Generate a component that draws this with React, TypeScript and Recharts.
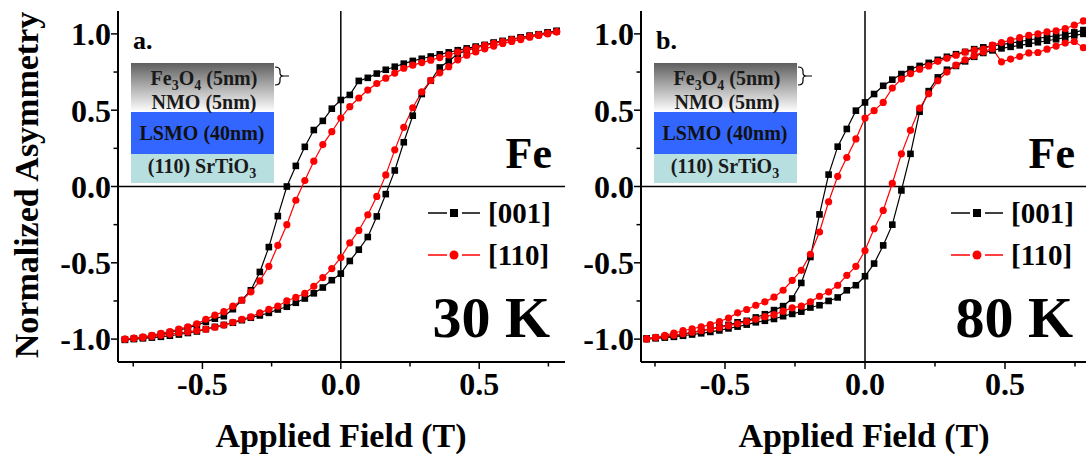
import { LineChart, Line, XAxis, YAxis, ReferenceLine } from "recharts"

// applied field steps of the sweep, from +H down to -H (T)
const FIELD = [
  0.78, 0.7475, 0.715, 0.6825, 0.65, 0.6175, 0.585, 0.5525, 0.52, 0.4875,
  0.455, 0.4225, 0.39, 0.3575, 0.325, 0.2925, 0.26, 0.2275, 0.195, 0.1625,
  0.13, 0.0975, 0.065, 0.0325, 0, -0.0325, -0.065, -0.0975, -0.13, -0.1625,
  -0.195, -0.2275, -0.26, -0.2925, -0.325, -0.3575, -0.39, -0.4225, -0.455, -0.4875,
  -0.52, -0.5525, -0.585, -0.6175, -0.65, -0.6825, -0.715, -0.7475, -0.78,
]

// 30 K, [001]
const A001_DOWN = [
  1.02, 1.01, 0.998, 0.988, 0.977, 0.966, 0.954, 0.943, 0.928, 0.917,
  0.905, 0.893, 0.879, 0.866, 0.852, 0.837, 0.823, 0.805, 0.785, 0.765,
  0.74, 0.712, 0.692, 0.6, 0.567, 0.51, 0.43, 0.37, 0.26, 0.135,
  0.0, -0.194, -0.397, -0.56, -0.68, -0.745, -0.804, -0.85, -0.866, -0.887,
  -0.908, -0.926, -0.941, -0.955, -0.967, -0.979, -0.99, -0.997, -1.003,
]
const A001_UP = [
  -1.005, -1.0, -0.995, -0.99, -0.985, -0.978, -0.97, -0.96, -0.95, -0.935,
  -0.92, -0.907, -0.893, -0.876, -0.86, -0.845, -0.828, -0.806, -0.788, -0.762,
  -0.734, -0.7, -0.662, -0.614, -0.571, -0.488, -0.414, -0.331, -0.196, -0.05,
  0.105, 0.29, 0.464, 0.606, 0.693, 0.78, 0.823, 0.868, 0.892, 0.91,
  0.925, 0.94, 0.952, 0.964, 0.975, 0.987, 0.997, 1.008, 1.018,
]
// 30 K, [110]
const A110_DOWN = [
  1.015, 1.005, 0.995, 0.985, 0.973, 0.962, 0.95, 0.938, 0.925, 0.91,
  0.895, 0.88, 0.862, 0.845, 0.828, 0.812, 0.795, 0.775, 0.743, 0.71,
  0.675, 0.632, 0.58, 0.523, 0.449, 0.359, 0.275, 0.166, 0.039, -0.09,
  -0.25, -0.386, -0.523, -0.619, -0.69, -0.745, -0.784, -0.82, -0.843, -0.87,
  -0.9, -0.92, -0.935, -0.95, -0.962, -0.975, -0.985, -0.993, -1.0,
]
const A110_UP = [
  -1.0, -0.995, -0.99, -0.982, -0.975, -0.967, -0.96, -0.953, -0.945, -0.935,
  -0.922, -0.908, -0.89, -0.871, -0.854, -0.828, -0.805, -0.784, -0.749, -0.727,
  -0.7, -0.654, -0.597, -0.538, -0.466, -0.37, -0.288, -0.185, -0.065, 0.076,
  0.24, 0.388, 0.516, 0.62, 0.695, 0.745, 0.785, 0.83, 0.86, 0.882,
  0.902, 0.92, 0.937, 0.95, 0.963, 0.978, 0.99, 1.0, 1.012,
]

// 80 K, [001]
const B001_DOWN = [
  1.025, 1.01, 0.997, 0.988, 0.98, 0.97, 0.96, 0.95, 0.94, 0.93,
  0.922, 0.912, 0.9, 0.882, 0.867, 0.85, 0.83, 0.81, 0.79, 0.769,
  0.737, 0.7, 0.66, 0.606, 0.551, 0.497, 0.377, 0.261, 0.078, -0.183,
  -0.462, -0.632, -0.734, -0.784, -0.81, -0.837, -0.858, -0.88, -0.89, -0.907,
  -0.92, -0.934, -0.946, -0.957, -0.968, -0.977, -0.985, -0.99, -0.995,
]
const B001_UP = [
  -1.0, -0.995, -0.99, -0.985, -0.978, -0.97, -0.962, -0.953, -0.943, -0.93,
  -0.918, -0.905, -0.89, -0.88, -0.868, -0.85, -0.835, -0.82, -0.793, -0.778,
  -0.75, -0.727, -0.68, -0.647, -0.588, -0.505, -0.386, -0.25, -0.026, 0.214,
  0.49, 0.625, 0.715, 0.765, 0.79, 0.82, 0.85, 0.875, 0.892, 0.905,
  0.915, 0.925, 0.935, 0.945, 0.955, 0.965, 0.975, 0.99, 1.0,
]
// 80 K, [110]
const B110_DOWN = [
  1.085, 1.057, 1.035, 1.02, 1.013, 1.0, 0.991, 0.976, 0.959, 0.943,
  0.926, 0.9, 0.893, 0.88, 0.86, 0.84, 0.82, 0.79, 0.769, 0.74,
  0.704, 0.645, 0.551, 0.497, 0.449, 0.312, 0.19, 0.067, -0.1, -0.298,
  -0.444, -0.549, -0.615, -0.68, -0.725, -0.756, -0.778, -0.806, -0.828, -0.862,
  -0.885, -0.905, -0.92, -0.932, -0.945, -0.96, -0.975, -0.988, -0.997,
]
const B110_UP = [
  -1.0, -0.99, -0.982, -0.975, -0.965, -0.955, -0.945, -0.935, -0.925, -0.912,
  -0.9, -0.885, -0.87, -0.853, -0.84, -0.817, -0.795, -0.784, -0.756, -0.719,
  -0.69, -0.647, -0.582, -0.523, -0.42, -0.277, -0.157, 0.02, 0.214, 0.368,
  0.513, 0.608, 0.693, 0.75, 0.795, 0.83, 0.856, 0.882, 0.904, 0.817,
  0.835, 0.852, 0.875, 0.878, 0.9, 0.92, 0.94, 0.95, 0.91,
]

const X_TICKS = [-0.75, -0.5, -0.25, 0, 0.25, 0.5, 0.75]
const Y_TICKS = [-1, -0.75, -0.5, -0.25, 0, 0.25, 0.5, 0.75, 1]

const SERIF = "'Liberation Serif', 'Times New Roman', serif"
const Y_DOMAIN: [number, number] = [-1.15, 1.15]

// full loop: down sweep then up sweep
function loop(down: number[], up: number[]) {
  const rev = FIELD.slice().reverse()
  return [
    ...FIELD.map((x, i) => ({ x, y: down[i] })),
    ...rev.map((x, i) => ({ x, y: up[i] })),
  ]
}

const isMajor = (v: number) => Math.abs(v * 2 - Math.round(v * 2)) < 1e-6

const Square = (props: any) => {
  const { cx, cy, index } = props
  if (cx == null || cy == null) return <g key={index} />
  return <rect key={index} x={cx - 3.3} y={cy - 3.3} width={6.6} height={6.6} fill="#000" />
}

const axisLine = { stroke: "#000", strokeWidth: 2 }
const TICK_SIZE = 6
const X_MARGIN = 4
const Y_MARGIN = 1

// bottom ticks: short marks for minor values, label only for majors
const XTick = (props: any) => {
  const { x, y, payload } = props
  const v = payload.value
  const y0 = y - X_MARGIN - TICK_SIZE
  const major = isMajor(v)
  return (
    <g>
      <line x1={x} x2={x} y1={y0} y2={y0 + (major ? 7 : 4.5)} stroke="#000" strokeWidth={1.5} />
      {major && (
        <text x={x} y={y} dy="0.71em" textAnchor="middle" fontFamily={SERIF} fontSize={32} fontWeight={700} fill="#000">
          {v.toFixed(1)}
        </text>
      )}
    </g>
  )
}

const YTick = (props: any) => {
  const { x, y, payload } = props
  const v = payload.value
  const x0 = x + Y_MARGIN + TICK_SIZE
  const major = isMajor(v)
  return (
    <g>
      <line x1={x0} x2={x0 - (major ? 7 : 4.5)} y1={y} y2={y} stroke="#000" strokeWidth={1.5} />
      {major && (
        <text x={x} y={y} dy="0.355em" textAnchor="end" fontFamily={SERIF} fontSize={32} fontWeight={700} fill="#000">
          {v.toFixed(1)}
        </text>
      )}
    </g>
  )
}

type PanelProps = {
  left: number
  width: number
  xDomain: [number, number]
  black: { x: number; y: number }[]
  red: { x: number; y: number }[]
}

function Panel({ left, width, xDomain, black, red }: PanelProps) {
  return (
    <div style={{ position: "absolute", left, top: 0 }}>
      <LineChart width={width} height={464} margin={{ top: 11, right: 15, bottom: 62, left: 68 }}>
        <XAxis
          type="number"
          dataKey="x"
          domain={xDomain}
          ticks={X_TICKS}
          interval={0}
          tick={<XTick />}
          tickSize={TICK_SIZE}
          tickMargin={X_MARGIN}
          height={40}
          axisLine={axisLine}
          tickLine={false}
          allowDataOverflow
        />
        <XAxis xAxisId="top" orientation="top" type="number" domain={xDomain} tick={false} tickLine={false} height={0} axisLine={axisLine} allowDataOverflow />
        <YAxis
          type="number"
          domain={Y_DOMAIN}
          ticks={Y_TICKS}
          interval={0}
          tick={<YTick />}
          tickSize={TICK_SIZE}
          tickMargin={Y_MARGIN}
          width={50}
          axisLine={axisLine}
          tickLine={false}
          allowDataOverflow
        />
        <YAxis yAxisId="right" orientation="right" type="number" domain={Y_DOMAIN} tick={false} tickLine={false} width={0} axisLine={axisLine} allowDataOverflow />
        <ReferenceLine x={0} stroke="#000" strokeWidth={1.5} />
        <ReferenceLine y={0} stroke="#000" strokeWidth={1.5} />
        <Line data={black} dataKey="y" type="linear" stroke="#000" strokeWidth={1.2} dot={<Square />} isAnimationActive={false} />
        <Line
          data={red}
          dataKey="y"
          type="linear"
          stroke="#ff0000"
          strokeWidth={1.2}
          dot={{ r: 3.6, fill: "#ff0000", stroke: "#ff0000", strokeWidth: 0 }}
          isAnimationActive={false}
        />
      </LineChart>
    </div>
  )
}

function Notes({ dx, tag, temp }: { dx: number; tag: string; temp: string }) {
  const b = { fontFamily: SERIF, fontWeight: 700 }
  return (
    <g transform={`translate(${dx},0)`}>
      <text x={133} y={49} fontSize={26} {...b}>{tag}</text>
      {/* layer stack */}
      <rect x={131} y={63} width={143} height={49} fill="url(#fade)" />
      <rect x={131} y={112} width={143} height={42} fill="#3366ff" />
      <rect x={131} y={154} width={143} height={29} fill="#b7dfe0" />
      <text x={204} y={85} fontSize={20} textAnchor="middle" fill="#1a1a1a" {...b}>
        Fe<tspan fontSize={14} dy={5}>3</tspan>
        <tspan dy={-5}>O</tspan>
        <tspan fontSize={14} dy={5}>4</tspan>
        <tspan dy={-5}> (5nm)</tspan>
      </text>
      <text x={204} y={109} fontSize={20} textAnchor="middle" fill="#1a1a1a" {...b}>NMO (5nm)</text>
      <text x={202} y={140} fontSize={20} textAnchor="middle" fill="#111" {...b}>LSMO (40nm)</text>
      <text x={202} y={173} fontSize={20} textAnchor="middle" fill="#1a1a1a" {...b}>
        (110) SrTiO<tspan fontSize={14} dy={5}>3</tspan>
      </text>
      <path
        d="M275,67 Q280,67 280,71 L280,73 Q280,76 283.5,76 Q280,76 280,79 L280,81 Q280,85 275,85 M283.5,76 L289,76"
        fill="none"
        stroke="#000"
        strokeWidth={1.2}
      />
      <text x={552} y={168} fontSize={44} textAnchor="end" {...b}>Fe</text>
      {/* legend */}
      <line x1={428} x2={447} y1={213} y2={213} stroke="#000" strokeWidth={1.5} />
      <line x1={462} x2={480} y1={213} y2={213} stroke="#000" strokeWidth={1.5} />
      <rect x={450} y={209} width={8} height={8} fill="#000" />
      <text x={488} y={223} fontSize={29} {...b}>[001]</text>
      <line x1={428} x2={447} y1={255} y2={255} stroke="#ff0000" strokeWidth={1.5} />
      <line x1={462} x2={480} y1={255} y2={255} stroke="#ff0000" strokeWidth={1.5} />
      <circle cx={454} cy={255} r={4.5} fill="#ff0000" />
      <text x={488} y={265} fontSize={29} {...b}>[110]</text>
      <text x={550} y={337} fontSize={58} textAnchor="end" {...b}>{temp}</text>
      <text x={341} y={447} fontSize={34} textAnchor="middle" {...b}>Applied Field (T)</text>
    </g>
  )
}

export default function App() {
  return (
    <div style={{ position: "absolute", left: 0, top: 0, width: 1086, height: 464, overflow: "hidden", background: "#fff" }}>
      <Panel left={0} width={580} xDomain={[-0.805, 0.81]} black={loop(A001_DOWN, A001_UP)} red={loop(A110_DOWN, A110_UP)} />
      <Panel left={523} width={581} xDomain={[-0.8, 0.8]} black={loop(B001_DOWN, B001_UP)} red={loop(B110_DOWN, B110_UP)} />
      <svg width={1086} height={464} style={{ position: "absolute", left: 0, top: 0, pointerEvents: "none" }}>
        <defs>
          <linearGradient id="fade" x1="0" y1="0" x2="0" y2="1">
            <stop offset="0" stopColor="#5e5e5e" />
            <stop offset="0.45" stopColor="#a9a9a9" />
            <stop offset="1" stopColor="#ffffff" />
          </linearGradient>
        </defs>
        <text
          transform="translate(38,185) rotate(-90)"
          textAnchor="middle"
          fontSize={34}
          fontFamily={SERIF}
          fontWeight={700}
        >
          Normalized Asymmetry
        </text>
        <Notes dx={0} tag="a." temp="30 K" />
        <Notes dx={523} tag="b." temp="80 K" />
      </svg>
    </div>
  )
}
